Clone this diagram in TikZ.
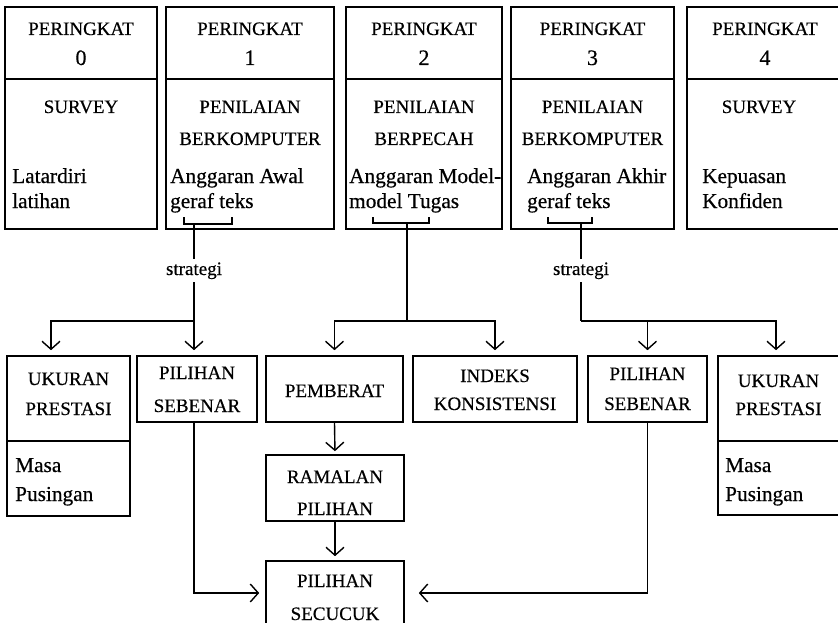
\documentclass[tikz,border=0pt]{standalone}
\usepackage{fontspec}
\setmainfont[FakeBold=0.5]{Liberation Serif}
\usetikzlibrary{arrows.meta,fit,calc}
\begin{document}
\begin{tikzpicture}[x=1pt,y=-1pt,
 boxn/.style={draw, line width=1.6pt, inner sep=0pt},
 capt/.style={anchor=base, inner sep=0pt, font=\fontsize{19}{22}\selectfont},
 numt/.style={anchor=base, inner sep=0pt, font=\fontsize{22}{24}\selectfont},
 txt/.style={anchor=base west, inner sep=0pt, font=\fontsize{21.3}{24}\selectfont},
 lab/.style={anchor=base, inner sep=3pt, font=\fontsize{19}{22}\selectfont},
 conn/.style={line width=1.4pt},
 arr/.style={conn, -{Straight Barb[length=8pt,width=18pt]}, shorten >=5pt}]
\useasboundingbox (0,0) rectangle (838,623);

% ---- top boxes ----
\node[boxn, fit={(5,7) (157,229)}] (b0) {};
\node[boxn, fit={(166,7) (334,229)}] (b1) {};
\node[boxn, fit={(346,7) (502,229)}] (b2) {};
\node[boxn, fit={(511,7) (674,229)}] (b3) {};
\node[boxn, fit={(687,7) (845,229)}] (b4) {};
\draw[conn] (5,79) -- (157,79);
\draw[conn] (166,79) -- (334,79);
\draw[conn] (346,79) -- (502,79);
\draw[conn] (511,79) -- (674,79);
\draw[conn] (687,79) -- (845,79);

\node[capt] (p0) at (81,35) {PERINGKAT};
\node[numt] (n0) at (81,65) {0};
\node[capt] (h0) at (81,113) {SURVEY};
\node[txt] (d0a) at (12,183) {Latardiri};
\node[txt] (d0b) at (12,208) {latihan};

\node[capt] (p1) at (250,35) {PERINGKAT};
\node[numt] (n1) at (250,65) {1};
\node[capt] (h1a) at (250,113) {PENILAIAN};
\node[capt] (h1b) at (250,145) {BERKOMPUTER};
\node[txt] (d1a) at (170,183) {Anggaran Awal};
\node[txt] (d1b) at (170,208) {geraf teks};

\node[capt] (p2) at (424,35) {PERINGKAT};
\node[numt] (n2) at (424,65) {2};
\node[capt] (h2a) at (424,113) {PENILAIAN};
\node[capt] (h2b) at (424,145) {BERPECAH};
\node[txt] (d2a) at (349,183) {Anggaran Model-};
\node[txt] (d2b) at (349,208) {model Tugas};

\node[capt] (p3) at (592.5,35) {PERINGKAT};
\node[numt] (n3) at (592.5,65) {3};
\node[capt] (h3a) at (592.5,113) {PENILAIAN};
\node[capt] (h3b) at (592.5,145) {BERKOMPUTER};
\node[txt] (d3a) at (527,183) {Anggaran Akhir};
\node[txt] (d3b) at (527,208) {geraf teks};

\node[capt] (p4) at (765,35) {PERINGKAT};
\node[numt] (n4) at (765,65) {4};
\node[capt] (h4) at (759,113) {SURVEY};
\node[txt] (d4a) at (702,183) {Kepuasan};
\node[txt] (d4b) at (702,208) {Konfiden};

% ---- brackets ----
\draw[conn] (184,217) -- (184,224) -- (232,224) -- (232,217);
\draw[conn] (373,217) -- (373,223) -- (429,223) -- (429,217);
\draw[conn] (548,217) -- (548,223) -- (592,223) -- (592,217);

% ---- bottom boxes ----
\node[boxn, fit={(7,356) (130,516)}] (uk1) {};
\draw[conn] (7,441) -- (130,441);
\node[boxn, fit={(137,356) (257,422)}] (ps1) {};
\node[boxn, fit={(266,356) (403,422)}] (pb) {};
\node[boxn, fit={(413,356) (577,422)}] (ik) {};
\node[boxn, fit={(588,356) (707,422)}] (ps2) {};
\node[boxn, fit={(718,356) (845,515)}] (uk2) {};
\draw[conn] (718,441) -- (845,441);
\node[boxn, fit={(266,455) (404,521)}] (rm) {};
\node[boxn, fit={(266,561) (404,625)}] (sc) {};

\node[capt] (u1a) at (68.5,385) {UKURAN};
\node[capt] (u1b) at (68.5,415) {PRESTASI};
\node[txt] (m1a) at (15,472) {Masa};
\node[txt] (m1b) at (15,501) {Pusingan};

\node[capt] (q1a) at (197,379) {PILIHAN};
\node[capt] (q1b) at (197,412) {SEBENAR};

\node[capt] (w1) at (334.5,397) {PEMBERAT};

\node[capt] (i1a) at (495,382) {INDEKS};
\node[capt] (i1b) at (495,410) {KONSISTENSI};

\node[capt] (q2a) at (647.5,380) {PILIHAN};
\node[capt] (q2b) at (647.5,410) {SEBENAR};

\node[capt] (u2a) at (778.5,387) {UKURAN};
\node[capt] (u2b) at (778.5,415) {PRESTASI};
\node[txt] (m2a) at (725,472) {Masa};
\node[txt] (m2b) at (725,501) {Pusingan};

\node[capt] (r1a) at (335,483) {RAMALAN};
\node[capt] (r1b) at (335,515) {PILIHAN};

\node[capt] (c1a) at (335,587) {PILIHAN};
\node[capt] (c1b) at (335,620) {SECUCUK};

% ---- connectors ----
\node[lab] (s1) at (194,275) {strategi};
\node[lab] (s3) at (581,275) {strategi};
\coordinate (k1) at (194,224);
\coordinate (j1) at (194,321);
\coordinate (a1) at (51,321);
\draw[conn] (k1) -- (s1.north);
\draw[conn] (s1.south) -- (j1);
\draw[arr] (j1) -- (j1 |- ps1.north);
\draw[arr] (j1) -- (a1) -- (a1 |- uk1.north);

\coordinate (k2) at (407,223);
\coordinate (j2) at (407,321);
\draw[conn] (k2) -- (j2);
\draw[arr] (j2) -| (pb.north);
\draw[arr] (j2) -| (ik.north);

\coordinate (k3) at (581,223);
\coordinate (j3) at (581,321);
\coordinate (a3) at (776,321);
\draw[conn] (k3) -- (s3.north);
\draw[conn] (s3.south) -- (j3);
\draw[arr] (j3) -| (ps2.north);
\draw[arr] (j3) -- (a3) -- (a3 |- uk2.north);

\draw[arr, shorten >=3pt] (pb.south) -- (rm.north);
\draw[arr, shorten >=4pt] (rm.south) -- (sc.north);
\draw[arr, shorten >=6pt] (ps1.south -| j1) |- (sc.west);
\draw[arr, shorten >=14pt] (ps2.south) |- (sc.east);
\end{tikzpicture}
\end{document}
